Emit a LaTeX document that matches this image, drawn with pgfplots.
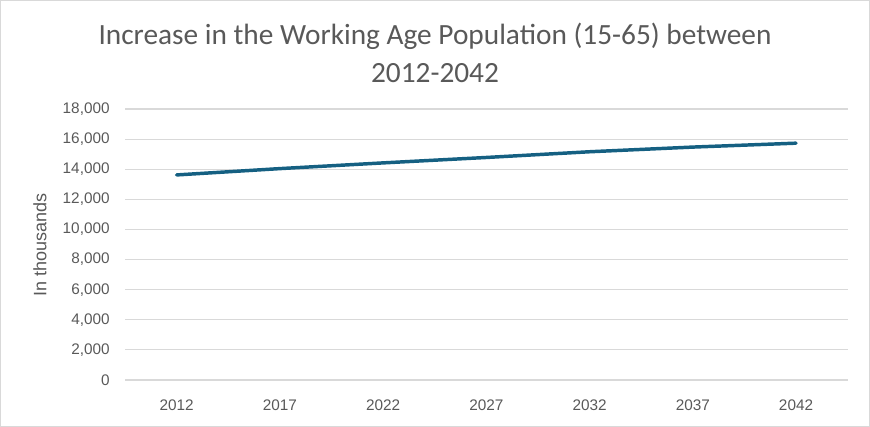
\documentclass[border=0pt]{standalone}
\usepackage{pgfplots}
\pgfplotsset{compat=1.18}
\usepackage{fontspec}
\setmainfont{Liberation Sans}
\newfontfamily\titlefont{Carlito}
\definecolor{txt}{HTML}{595959}
\definecolor{gridc}{HTML}{D9D9D9}
\definecolor{linec}{HTML}{156082}
\begin{document}
\begin{tikzpicture}
\useasboundingbox (-93.75pt,-35.25pt) rectangle (558.75pt,285pt);
\draw[gridc, line width=0.8pt] (-93.25pt,-34.75pt) rectangle (558.25pt,284.5pt);
\begin{axis}[
  at={(0,0)}, anchor=south west,
  scale only axis, width=542pt, height=203.25pt,
  xmin=-0.5, xmax=6.5, ymin=0, ymax=18000,
  xtick={0,...,6},
  xticklabels={2012,2017,2022,2027,2032,2037,2042},
  ytick={0,2000,...,18000},
  ymajorgrids, xmajorgrids=false, grid style={color=gridc, line width=0.8pt},
  axis line style={draw=none},
  major tick length=0pt,
  tick style={draw=none},
  xticklabel style={font=\fontsize{11.5}{13}\selectfont, text=txt, yshift=-11pt},
  yticklabel style={font=\fontsize{11.5}{13}\selectfont, text=txt, xshift=-8pt},
  /pgf/number format/assume math mode=true,
  /pgf/number format/1000 sep={,},
  scaled y ticks=false,
  clip=false,
]
\addplot[linec, line width=2.6pt, line cap=round, line join=round] coordinates {
  (0,13620) (1,14040) (2,14420) (3,14780) (4,15160) (5,15470) (6,15730)
};
\end{axis}
\node[font=\fontsize{13.5}{15}\selectfont, text=txt, rotate=90] at (-63.75pt,101.25pt) {In thousands};
\node[font=\titlefont\fontsize{22}{28.5}\selectfont, text=txt, align=center] at (232.5pt,245.5pt) {Increase in the Working Age Population (15-65) between\\2012-2042};
\end{tikzpicture}
\end{document}
